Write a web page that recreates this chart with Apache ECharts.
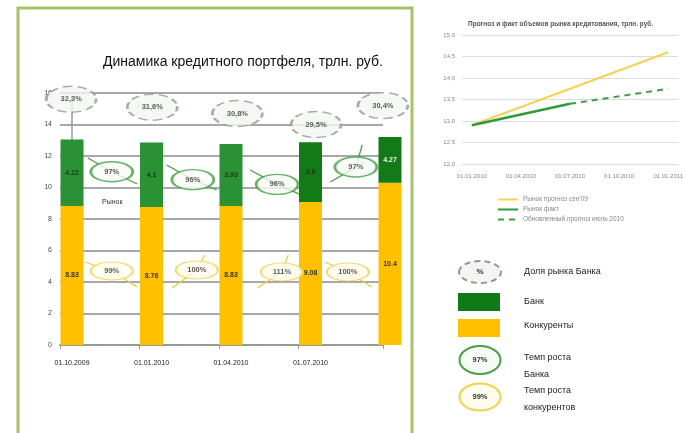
<!DOCTYPE html>
<html>
<head>
<meta charset="utf-8">
<script src="https://cdn.jsdelivr.net/npm/echarts@6/dist/echarts.min.js"></script>
<style>html,body{margin:0;background:#fff}#c{width:686px;height:433px}</style>
</head>
<body>
<div id="c"></div>
<script>
// левая диаграмма: динамика кредитного портфеля, трлн. руб.
const dates = ['01.10.2009', '01.01.2010', '01.04.2010', '01.07.2010', ''];
const competitors = [8.83, 8.76, 8.83, 9.08, 10.3];
const bank = [4.22, 4.1, 3.93, 3.8, 2.9];
const competitorsLbl = ['8.83', '8.76', '8.83', '9.08', '10.4'];
const bankLbl = ['4.22', '4.1', '3.93', '3.8', '4.27'];
const share = ['32,3%', '31,6%', '30,8%', '29,5%', '30,4%'];
const bankGrowth = ['97%', '96%', '96%', '97%'];
const compGrowth = ['99%', '100%', '111%', '100%'];

// правая диаграмма: прогноз и факт объемов рынка
const months = ['01.01.2010', '01.04.2010', '01.07.2010', '01.10.2010', '01.01.2011'];
const fcstSep09 = [12.9, null, null, null, 14.6];
const fact = [12.9, null, 13.4, null, null];
const fcstJul10 = [null, null, 13.4, null, 13.75];

// раскладка выносок (в единицах осей)
const shareAt = [[-0.01, 15.6], [1.01, 15.1], [2.08, 14.7], [3.07, 14.0], [3.91, 15.2]];
const bankAt = [[0.5, 11.0], [1.52, 10.5], [2.58, 10.2], [3.57, 11.3]];
const compAt = [[0.5, 4.7], [1.57, 4.76], [2.64, 4.63], [3.47, 4.63]];
const bankArrows = [
  [[0.20, 11.87], [0.5, 11.0], [0.82, 10.22]],
  [[1.19, 11.43], [1.52, 10.5], [1.82, 9.84]],
  [[2.24, 11.11], [2.58, 10.2], [2.89, 9.52]],
  [[3.25, 10.35], [3.57, 11.3], [3.65, 12.7]]
];
const compArrows = [
  [[0.16, 5.27], [0.5, 4.7], [0.82, 3.68]],
  [[1.26, 3.62], [1.57, 4.76], [1.67, 5.71]],
  [[2.33, 3.62], [2.64, 4.63], [2.72, 5.71]],
  [[3.18, 5.27], [3.47, 4.63], [3.77, 3.68]]
];

const font = 'Liberation Sans';
const ellipse = 'path://M0,25A50,25 0 1,1 100,25A50,25 0 1,1 0,25Z';
const pairs = arr => arr.map((v, i) => [i, v]).filter(p => p[1] != null);
const fmt1 = v => v.toFixed(1).replace('.', ',');

let chart = echarts.init(document.getElementById('c'));

let option = {
  backgroundColor: '#fff',
  animation: false,
  textStyle: { fontFamily: font },
  title: [
    {
      text: 'Динамика кредитного портфеля, трлн. руб.',
      left: 98, top: 50,
      textStyle: { fontSize: 14, fontWeight: 'normal', color: '#111', fontFamily: font }
    },
    {
      text: 'Прогноз и факт объемов рынка кредитования, трлн. руб.',
      left: 463, top: 16,
      textStyle: { fontSize: 6.5, fontWeight: 'bold', color: '#555', fontFamily: font }
    }
  ],
  legend: {
    data: ['Рынок прогноз сен\'09', 'Рынок факт', 'Обновленный прогноз июль 2010'],
    orient: 'vertical',
    left: 492, top: 191,
    itemWidth: 20, itemHeight: 7, itemGap: 3,
    itemStyle: { opacity: 0 },
    textStyle: { fontSize: 6.5, color: '#888' }
  },
  grid: [
    { left: 60, top: 93, width: 323, height: 252 },
    { left: 462, top: 35, width: 216, height: 129 }
  ],
  xAxis: [
    {
      type: 'value', gridIndex: 0, min: -0.151, max: 3.912,
      splitLine: { show: false },
      axisLine: { show: true, lineStyle: { color: '#999', width: 2 } },
      axisTick: { show: true, length: 4, customValues: [-0.151, 0.85, 1.85, 2.85, 3.912], lineStyle: { color: '#999' } },
      axisLabel: {
        customValues: [0, 1, 2, 3],
        formatter: v => dates[Math.round(v)],
        fontSize: 7, color: '#222', margin: 15
      }
    },
    {
      type: 'value', gridIndex: 1, min: -0.2, max: 4.2,
      splitLine: { show: false },
      axisLine: { show: false },
      axisTick: { show: false },
      axisLabel: {
        customValues: [0, 1, 2, 3, 4],
        formatter: v => months[Math.round(v)],
        fontSize: 6, color: '#888', margin: 9
      }
    }
  ],
  yAxis: [
    {
      type: 'value', gridIndex: 0, min: 0, max: 16, interval: 2,
      axisLine: { show: true, lineStyle: { color: '#999', width: 1.5 } },
      axisTick: { show: true, length: 3, lineStyle: { color: '#999' } },
      axisLabel: { fontSize: 7, color: '#444', margin: 8 },
      splitLine: { lineStyle: { color: '#a8a8a8', width: 2 } }
    },
    {
      type: 'value', gridIndex: 1, min: 12, max: 15, interval: 0.5,
      axisLine: { show: false },
      axisTick: { show: false },
      axisLabel: { fontSize: 6, color: '#888', margin: 7, formatter: fmt1 },
      splitLine: { lineStyle: { color: '#dcdcdc', width: 1 } }
    }
  ],
  series: [
    {
      // значение идёт первым измерением, чтобы стек считался по оси Y
      name: 'Конкуренты', type: 'bar', stack: 'p', xAxisIndex: 0, yAxisIndex: 0,
      barWidth: 23, clip: false,
      encode: { x: 1, y: 0 },
      itemStyle: { color: '#ffc000' },
      data: competitors.map((v, i) => [v, i]),
      label: {
        show: true, position: 'inside', fontSize: 7, fontWeight: 'bold', color: '#333',
        formatter: p => competitorsLbl[p.dataIndex]
      }
    },
    {
      name: 'Банк', type: 'bar', stack: 'p', xAxisIndex: 0, yAxisIndex: 0,
      barWidth: 23, clip: false,
      encode: { x: 1, y: 0 },
      itemStyle: { color: p => p.dataIndex >= 3 ? '#127a17' : '#2a9134' },
      data: bank.map((v, i) => ({
        value: [v, i],
        label: { color: i == 4 ? '#e8f5e0' : '#1a3a1a' }
      })),
      label: {
        show: true, position: 'inside', fontSize: 7, fontWeight: 'bold',
        formatter: p => bankLbl[p.dataIndex]
      }
    },
    {
      type: 'lines', coordinateSystem: 'cartesian2d', xAxisIndex: 0, yAxisIndex: 0,
      polyline: true, symbol: ['none', 'arrow'], symbolSize: 7,
      lineStyle: { color: '#4aa04a', width: 1.3, opacity: 1 },
      data: bankArrows.map(c => ({ coords: c }))
    },
    {
      type: 'lines', coordinateSystem: 'cartesian2d', xAxisIndex: 0, yAxisIndex: 0,
      polyline: true, symbol: ['none', 'arrow'], symbolSize: 7,
      lineStyle: { color: '#f0cc3a', width: 1.3, opacity: 1 },
      data: compArrows.map(c => ({ coords: c }))
    },
    {
      type: 'scatter', xAxisIndex: 0, yAxisIndex: 0, clip: false,
      symbol: ellipse, symbolSize: [50, 26],
      itemStyle: { color: '#f3f6f3', borderColor: '#8f9c8f', borderWidth: 2, borderType: [7, 4] },
      label: { show: true, position: 'inside', fontSize: 7.5, fontWeight: 'bold', color: '#333', formatter: p => share[p.dataIndex] },
      data: shareAt
    },
    {
      type: 'scatter', xAxisIndex: 0, yAxisIndex: 0, clip: false,
      symbol: ellipse, symbolSize: [42, 20],
      itemStyle: { color: '#f7fbf6', borderColor: '#45a045', borderWidth: 2 },
      label: { show: true, position: 'inside', fontSize: 7.5, fontWeight: 'bold', color: '#333', formatter: p => bankGrowth[p.dataIndex] },
      data: bankAt
    },
    {
      type: 'scatter', xAxisIndex: 0, yAxisIndex: 0, clip: false,
      symbol: ellipse, symbolSize: [42, 18],
      itemStyle: { color: '#fffcee', borderColor: '#f0d24e', borderWidth: 1.5 },
      label: { show: true, position: 'inside', fontSize: 7.5, fontWeight: 'bold', color: '#333', formatter: p => compGrowth[p.dataIndex] },
      data: compAt
    },
    {
      name: 'Рынок прогноз сен\'09', type: 'line', xAxisIndex: 1, yAxisIndex: 1,
      symbol: 'none', lineStyle: { color: '#f7d154', width: 2 }, itemStyle: { color: '#f7d154' },
      data: pairs(fcstSep09)
    },
    {
      name: 'Рынок факт', type: 'line', xAxisIndex: 1, yAxisIndex: 1,
      symbol: 'none', lineStyle: { color: '#2f9a3a', width: 2.5 }, itemStyle: { color: '#2f9a3a' },
      data: pairs(fact)
    },
    {
      name: 'Обновленный прогноз июль 2010', type: 'line', xAxisIndex: 1, yAxisIndex: 1,
      symbol: 'none', lineStyle: { color: '#3c9e44', width: 2, type: [6, 5] }, itemStyle: { color: '#3c9e44' },
      data: pairs(fcstJul10)
    }
  ],
  graphic: [
    { type: 'rect', shape: { x: 18, y: 8, width: 394, height: 440 }, style: { fill: 'none', stroke: '#a6c26a', lineWidth: 3 }, z: -1 },
    { type: 'text', left: 102, top: 199, style: { text: 'Рынок', fontSize: 7, fill: '#333', fontFamily: font } },
    // условные обозначения
    { type: 'ellipse', shape: { cx: 480, cy: 272, rx: 21, ry: 11 }, style: { fill: '#f3f6f3', stroke: '#8f9c8f', lineWidth: 2, lineDash: [6, 4] } },
    { type: 'text', x: 480, y: 272, style: { text: '%', fontSize: 8, fontWeight: 'bold', fill: '#333', align: 'center', verticalAlign: 'middle', fontFamily: font } },
    { type: 'rect', shape: { x: 458, y: 293, width: 42, height: 18 }, style: { fill: '#0f7a18' } },
    { type: 'rect', shape: { x: 458, y: 319, width: 42, height: 18 }, style: { fill: '#ffc000' } },
    { type: 'ellipse', shape: { cx: 480, cy: 360, rx: 20.5, ry: 14 }, style: { fill: '#f7fbf6', stroke: '#45a045', lineWidth: 2 } },
    { type: 'text', x: 480, y: 360, style: { text: '97%', fontSize: 7.5, fontWeight: 'bold', fill: '#333', align: 'center', verticalAlign: 'middle', fontFamily: font } },
    { type: 'ellipse', shape: { cx: 480, cy: 397, rx: 20.5, ry: 13.5 }, style: { fill: '#fffcee', stroke: '#f0d24e', lineWidth: 2 } },
    { type: 'text', x: 480, y: 397, style: { text: '99%', fontSize: 7.5, fontWeight: 'bold', fill: '#333', align: 'center', verticalAlign: 'middle', fontFamily: font } },
    { type: 'text', x: 524, y: 272, style: { text: 'Доля рынка Банка', fontSize: 9, fill: '#222', verticalAlign: 'middle', fontFamily: font } },
    { type: 'text', x: 524, y: 302, style: { text: 'Банк', fontSize: 9, fill: '#222', verticalAlign: 'middle', fontFamily: font } },
    { type: 'text', x: 524, y: 326, style: { text: 'Конкуренты', fontSize: 9, fill: '#222', verticalAlign: 'middle', fontFamily: font } },
    { type: 'text', x: 524, y: 349, style: { text: 'Темп роста\nБанка', fontSize: 9, lineHeight: 17, fill: '#222', verticalAlign: 'top', fontFamily: font } },
    { type: 'text', x: 524, y: 382, style: { text: 'Темп роста\nконкурентов', fontSize: 9, lineHeight: 17, fill: '#222', verticalAlign: 'top', fontFamily: font } }
  ]
};

chart.setOption(option);
</script>
</body>
</html>
